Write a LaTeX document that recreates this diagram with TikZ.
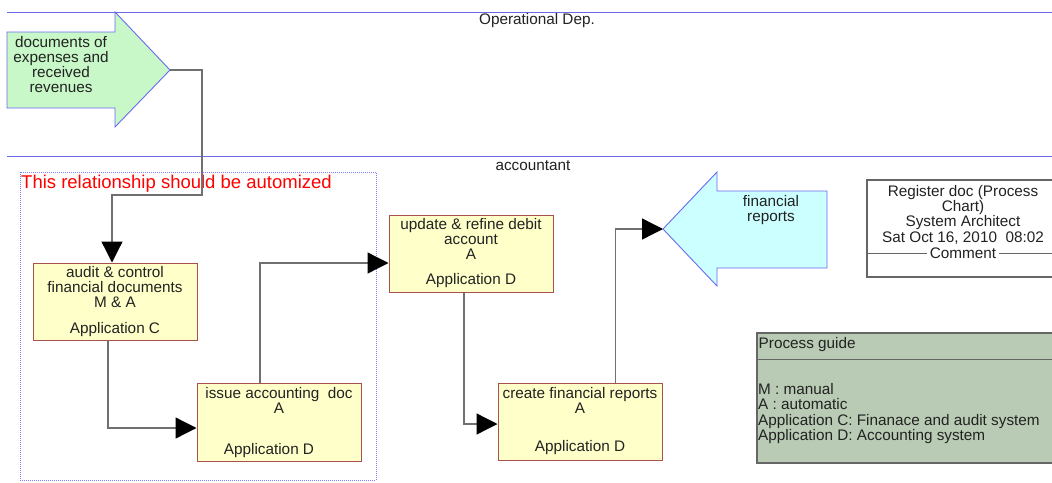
\documentclass[tikz,border=0pt]{standalone}
\usepackage{fontspec}
\setmainfont{Liberation Sans}
\usetikzlibrary{arrows.meta}
\definecolor{lanecol}{HTML}{6A6AE6}
\definecolor{txtcol}{HTML}{222222}
\definecolor{boxfill}{HTML}{FFFFCA}
\definecolor{boxdraw}{HTML}{A8504C}
\definecolor{greenfill}{HTML}{C8F8C8}
\definecolor{cyanfill}{HTML}{CCFFFF}
\definecolor{arrdraw}{HTML}{6A6AF0}
\definecolor{guidefill}{HTML}{B9CBB4}
\definecolor{graydraw}{HTML}{666666}
\definecolor{conncol}{HTML}{707070}
\definecolor{dotcol}{HTML}{8080FF}
\begin{document}
\begin{tikzpicture}[x=1pt,y=-1pt,
  every node/.style={font=\fontsize{15.3}{15}\selectfont, text=txtcol, inner sep=0pt},
  procbox/.style={draw=boxdraw, line width=1pt, fill=boxfill, rectangle},
  boxtext/.style={align=center, anchor=north},
  conn/.style={draw=conncol, line width=1.3pt, -{Triangle[length=21pt,width=21pt,fill=black,color=black]}},
  lane/.style={draw=lanecol, line width=0.9pt},
  shapearrow/.style={draw=arrdraw, line width=0.9pt, line join=miter}]
\useasboundingbox (0,0) rectangle (1052,482);
\clip (0,0) rectangle (1052,482);
\fill[white] (0,0) rectangle (1052,482);

% lanes
\draw[lane] (7,12) -- (1052,12);
\draw[lane] (7,156.5) -- (1052,156.5);
\node[anchor=center] (lane1) at (537,21) {Operational Dep.};
\node[anchor=center] (lane2) at (533,166) {accountant};

% dotted group
\draw[draw=dotcol, dash pattern=on 1pt off 1pt, line width=0.8pt] (20,172) rectangle (376,480);
\node[anchor=base west, text=red, font=\fontsize{18.5}{20}\selectfont] (note) at (21,188) {This relationship should be automized};

% green arrow
\draw[shapearrow, fill=greenfill] (7,32) -- (115,32) -- (115,12) -- (170,70) -- (115,127) -- (115,108) -- (7,108) -- cycle;
\coordinate (gtip) at (170,70);
\node[boxtext] (gtext) at (61,36) {documents of\\expenses and\\received\\revenues};

% cyan arrow
\draw[shapearrow, fill=cyanfill] (663,229) -- (717,172) -- (717,191) -- (827,191) -- (827,268) -- (717,268) -- (717,286) -- cycle;
\coordinate (ctip) at (663,229);
\node[boxtext] (ctext) at (771,195.5) {financial\\reports};

% process boxes
\node[procbox, minimum width=164pt, minimum height=77pt] (b1) at (115,301.5) {};
\node[boxtext] (t1) at (115,266.5) {audit \& control\\financial documents\\M \& A\\[10.5pt]Application C};

\node[procbox, minimum width=164pt, minimum height=78pt] (b2) at (279,422) {};
\node[boxtext] (t2) at (279,387.5) {issue accounting\ \ doc\\A\\[26pt]Application D\hspace*{20pt}};

\node[procbox, minimum width=164pt, minimum height=77pt] (b3) at (471,253.5) {};
\node[boxtext] (t3) at (471,218.3) {update \& refine debit\\account\\A\\[10pt]Application D};

\node[procbox, minimum width=164pt, minimum height=77pt] (b4) at (580,422) {};
\node[boxtext] (t4) at (580,387.5) {create financial reports\\A\\[23pt]Application D};

% connectors
\draw[conn] (gtip) -| (202,195) -| ([xshift=-3pt]b1.north);
\draw[conn] ([xshift=-7pt]b1.south) |- ([yshift=-6pt]b2.west);
\draw[conn] ([xshift=-19pt]b2.north) |- ([yshift=-9.5pt]b3.west);
\draw[conn] ([xshift=-7pt]b3.south) |- ([yshift=-2pt]b4.west);
\draw[conn] ([xshift=35.5pt]b4.north) |- (ctip);

% register box
\node[draw=graydraw, line width=1.2pt, fill=white, minimum width=192pt, minimum height=97pt] (reg) at (963,228.5) {};
\node[boxtext, font=\fontsize{15.3}{15.3}\selectfont] (regtext) at (963,185) {Register doc (Process\\Chart)\\System Architect\\Sat Oct 16, 2010\ \ 08:02};
\draw[draw=graydraw, line width=0.8pt] (reg.west |- 0,253.5) -- (reg.east |- 0,253.5);
\node[fill=white, inner xsep=3pt, inner ysep=1pt] (comment) at (963,253) {Comment};

% process guide
\node[draw=graydraw, line width=1.2pt, fill=guidefill, minimum width=303pt, minimum height=130pt] (guide) at (908.5,398) {};
\draw[draw=graydraw, line width=1pt] (guide.west |- 0,359) -- (guide.east |- 0,359);
\node[anchor=base west] (gtitle) at (758.5,348) {Process guide};
\node[anchor=north west, align=left, font=\fontsize{15.3}{15.4}\selectfont] (glines) at (758,383) {M : manual\\A : automatic\\Application C: Finanace and audit system\\Application D: Accounting system};
\end{tikzpicture}
\end{document}
